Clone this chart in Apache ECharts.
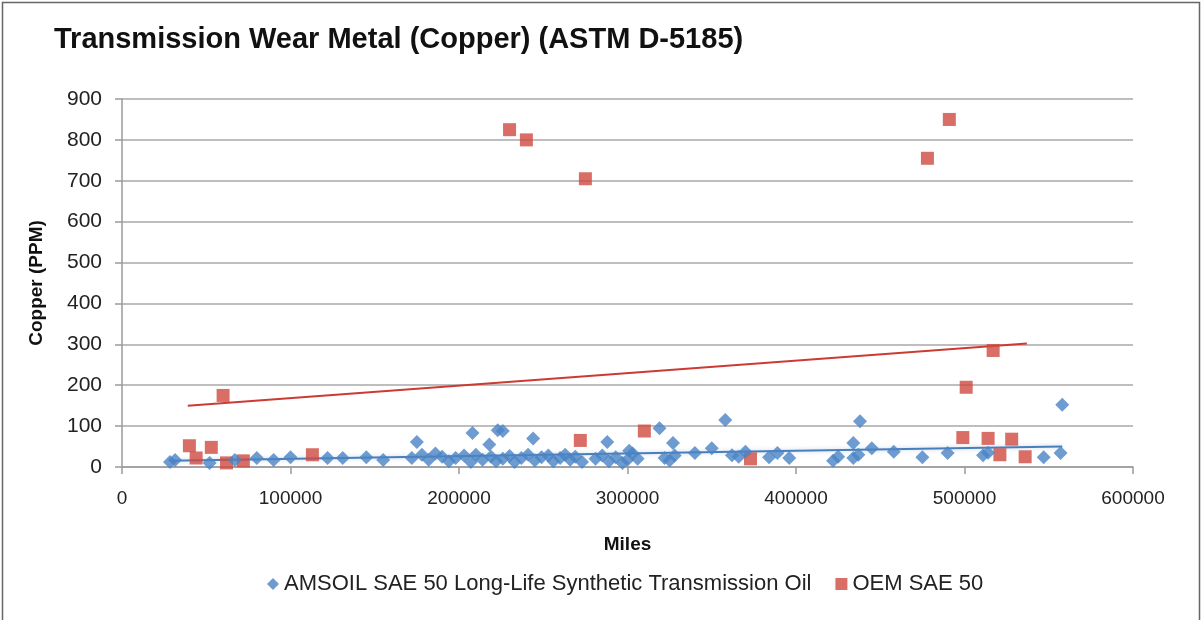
<!DOCTYPE html>
<html>
<head>
<meta charset="utf-8">
<script src="https://cdn.jsdelivr.net/npm/echarts@6/dist/echarts.min.js"></script>
<style>
html,body{margin:0;padding:0;background:#fff;}
#c{width:1204px;height:620px;}
</style>
</head>
<body>
<div id="c"></div>
<script>
// ---- data (miles, copper ppm) ----
var amsoilData = [
  [28500,12],[31500,17],[52000,10],[67000,17],[80000,22],[90000,17],[100000,24],
  [122000,22],[131000,22],[145000,24],[155000,17],[172000,22],[175000,61],[178000,30],
  [182000,18],[186000,33],[190000,25],[194000,14],[198000,22],[203000,28],[207000,12],
  [208000,83],[210000,30],[214000,18],[218000,55],[219000,25],[222000,14],[223000,90],
  [226000,88],[226000,20],[230000,27],[233000,12],[237000,22],[241000,30],[244000,70],
  [245000,16],[249000,24],[253000,28],[256000,14],[260000,22],[263000,30],[266000,18],
  [269000,25],[273000,12],[281000,20],[285000,28],[288000,61],[289000,14],[293000,24],
  [297000,10],[300000,18],[301000,40],[303000,33],[306000,20],[319000,95],[322000,22],
  [325000,16],[327000,59],[328000,28],[340000,34],[350000,46],[358000,115],[362000,29],
  [366000,25],[370000,37],[384000,24],[389000,34],[396000,22],[422000,15],[425000,25],
  [434000,59],[434000,22],[437000,30],[438000,112],[445000,46],[458000,37],[475000,24],
  [490000,34],[511000,29],[514000,35],[547000,24],[557000,34],[558000,152]
];
var oemData = [
  [40000,52],[44000,22],[53000,48],[60000,175],[62000,10],[72000,15],[113000,30],
  [230000,825],[240000,800],[272000,65],[275000,705],[310000,88],[373000,20],
  [478000,755],[491000,850],[499000,72],[501000,195],[514000,70],[517000,285],
  [521000,30],[528000,68],[536000,25]
];
var amsoilTrend = [[28500,15],[558000,50]];
var oemTrend = [[39000,150],[537000,302]];
var seriesNames = ['AMSOIL SAE 50 Long-Life Synthetic Transmission Oil','OEM SAE 50'];
var xTicks = {min:0, max:600000, interval:100000};
var yTicks = {min:0, max:900, interval:100};

var BLUE = '#4a83c4', RED = '#d04a40';
var chart = echarts.init(document.getElementById('c'), null, {renderer:'canvas'});
chart.setOption({
  animation:false,
  backgroundColor:'#fff',
  graphic:[{type:'rect', shape:{x:2.5,y:2.5,width:1197,height:640}, style:{fill:'none', stroke:'#666', lineWidth:1.5}, silent:true}],
  title:{
    text:'Transmission Wear Metal (Copper) (ASTM D-5185)',
    left:49, top:20,
    textStyle:{fontFamily:'Liberation Sans', fontWeight:'bold', fontSize:29, color:'#111'}
  },
  grid:{left:122, right:71, top:99, bottom:153, containLabel:false},
  legend:{
    data:[{name:seriesNames[0], icon:'diamond'},{name:seriesNames[1], icon:'rect'}],
    left:262, top:568, itemGap:24, itemWidth:12, itemHeight:12,
    textStyle:{fontFamily:'Liberation Sans', fontSize:22, color:'#222'}
  },
  xAxis:{
    type:'value', min:xTicks.min, max:xTicks.max, interval:xTicks.interval,
    name:'Miles', nameLocation:'middle', nameGap:68,
    nameTextStyle:{fontFamily:'Liberation Sans', fontWeight:'bold', fontSize:19, color:'#111'},
    axisLine:{show:true, lineStyle:{color:'#9a9a9a', width:1.5}},
    axisTick:{show:true, length:7, lineStyle:{color:'#9a9a9a', width:1.5}},
    splitLine:{show:false},
    axisLabel:{fontFamily:'Liberation Sans', fontSize:19, color:'#222', margin:22, formatter:function(v){return String(v);}}
  },
  yAxis:{
    type:'value', min:yTicks.min, max:yTicks.max, interval:yTicks.interval,
    name:'Copper (PPM)', nameLocation:'middle', nameGap:76, nameRotate:90,
    nameTextStyle:{fontFamily:'Liberation Sans', fontWeight:'bold', fontSize:19, color:'#111'},
    axisLine:{show:true, lineStyle:{color:'#9a9a9a', width:1.5}},
    axisTick:{show:true, length:7, lineStyle:{color:'#9a9a9a', width:1.5}},
    splitLine:{show:true, lineStyle:{color:'#a8a8a8', width:1.5}},
    axisLabel:{fontFamily:'Liberation Sans', fontSize:21, color:'#222', margin:20}
  },
  series:[
    {name:'amsoilTrend', type:'line', data:amsoilTrend, symbol:'none', silent:true, z:1,
     lineStyle:{color:'#4a7ebb', width:2, shadowColor:'rgba(74,126,187,0.35)', shadowBlur:4}},
    {name:'oemTrend', type:'line', data:oemTrend, symbol:'none', silent:true, z:1,
     lineStyle:{color:'#cc3b33', width:2}},
    {name:seriesNames[0], type:'scatter', data:amsoilData, symbol:'diamond', symbolSize:14, z:3,
     itemStyle:{color:BLUE}},
    {name:seriesNames[1], type:'scatter', data:oemData, symbol:'rect', symbolSize:13, z:2,
     itemStyle:{color:RED}}
  ]
});
</script>
</body>
</html>
